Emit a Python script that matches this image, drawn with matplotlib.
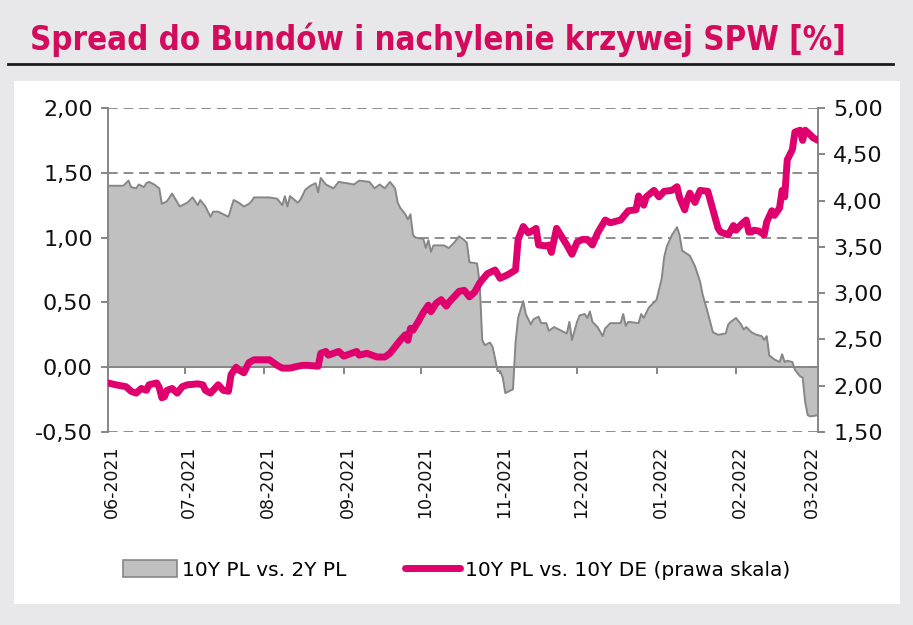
import numpy as np
import matplotlib
matplotlib.use("Agg")
import matplotlib.pyplot as plt
import matplotlib.dates as mdates
import matplotlib.transforms as mtransforms
from matplotlib import font_manager
from matplotlib.patches import Rectangle, Patch
from matplotlib.lines import Line2D
from matplotlib.ticker import FixedLocator, FuncFormatter

# data (days counted from 2021-06-01)
start = np.datetime64("2021-06-01")

slope_days = [0, 6, 8, 9, 11, 12, 14, 15, 16, 18, 20, 21, 23, 25, 28, 29, 31, 33, 35, 36,
              38, 40, 41, 43, 45, 47, 49, 51, 53, 55, 56, 57, 63, 66, 68, 69, 70, 71, 74, 75,
              77, 79, 81, 82, 83, 85, 88, 90, 93, 96, 98, 102, 104, 106, 108, 110, 112, 113, 114, 116,
              117, 118, 119, 120, 123, 124, 125, 126, 127, 131, 133, 135, 137, 139, 140, 141, 144, 145, 146, 147,
              149, 150, 151, 152, 153, 154, 155, 158, 159, 160, 162, 163, 165, 166, 168, 169, 171, 172, 174, 177,
              179, 180, 181, 183, 184, 186, 187, 188, 189, 191, 193, 194, 196, 200, 201, 202, 203, 207, 208, 209,
              211, 214, 216, 217, 218, 220, 222, 223, 224, 227, 229, 231, 232, 234, 236, 238, 241, 242, 243, 245,
              247, 248, 249, 251, 253, 255, 256, 257, 258, 260, 262, 263, 264, 265, 267, 268, 270, 271, 272, 273,
              274, 277]
slope_vals = [1.40, 1.40, 1.44, 1.39, 1.38, 1.41, 1.39, 1.42, 1.43, 1.41, 1.38, 1.26, 1.28, 1.34, 1.24, 1.25, 1.27, 1.31, 1.25, 1.29,
              1.24, 1.16, 1.20, 1.20, 1.18, 1.16, 1.29, 1.27, 1.24, 1.26, 1.28, 1.31, 1.31, 1.30, 1.25, 1.32, 1.24, 1.32, 1.27, 1.29,
              1.37, 1.40, 1.42, 1.35, 1.46, 1.41, 1.38, 1.43, 1.42, 1.41, 1.44, 1.43, 1.38, 1.41, 1.38, 1.43, 1.38, 1.27, 1.23, 1.18,
              1.14, 1.18, 1.02, 1.00, 0.99, 0.92, 0.98, 0.89, 0.94, 0.94, 0.92, 0.96, 1.01, 0.98, 0.96, 0.81, 0.80, 0.65, 0.21, 0.17,
              0.19, 0.16, 0.07, -0.03, -0.03, -0.08, -0.20, -0.17, 0.19, 0.38, 0.51, 0.41, 0.33, 0.37, 0.39, 0.34, 0.34, 0.28, 0.31, 0.28,
              0.26, 0.35, 0.21, 0.35, 0.40, 0.41, 0.38, 0.43, 0.35, 0.31, 0.24, 0.30, 0.34, 0.34, 0.41, 0.32, 0.35, 0.34, 0.41, 0.38,
              0.46, 0.52, 0.68, 0.85, 0.93, 1.02, 1.08, 1.02, 0.90, 0.86, 0.78, 0.66, 0.56, 0.42, 0.27, 0.25, 0.26, 0.33, 0.35, 0.38,
              0.33, 0.29, 0.31, 0.27, 0.25, 0.24, 0.21, 0.24, 0.09, 0.06, 0.04, 0.10, 0.04, 0.05, 0.04, -0.02, -0.07, -0.08, -0.27, -0.37,
              -0.38, -0.37]

spread_days = [0, 3, 7, 9, 11, 13, 15, 16, 19, 20, 21, 22, 23, 25, 27, 29, 31, 35, 37, 38,
               40, 42, 43, 45, 47, 48, 50, 51, 53, 55, 57, 63, 66, 68, 71, 74, 76, 78, 82, 83,
               85, 86, 90, 92, 94, 97, 98, 101, 105, 108, 110, 112, 114, 116, 117, 118, 119, 121, 123, 125,
               126, 128, 130, 132, 133, 135, 137, 139, 141, 143, 145, 148, 151, 153, 156, 159, 160, 162, 164, 166,
               167, 168, 171, 172, 173, 175, 177, 179, 181, 183, 185, 187, 189, 191, 194, 196, 200, 203, 206, 207,
               209, 210, 213, 215, 217, 220, 222, 223, 225, 226, 227, 229, 231, 234, 236, 238, 239, 242, 244, 245,
               247, 249, 250, 251, 252, 254, 256, 257, 259, 260, 262, 263, 264, 265, 267, 268, 270, 271, 272, 274,
               275, 277]
spread_vals = [2.03, 2.01, 1.99, 1.94, 1.92, 1.97, 1.95, 2.01, 2.03, 1.98, 1.87, 1.88, 1.95, 1.97, 1.92, 1.99, 2.01, 2.02, 2.01, 1.95,
               1.92, 1.98, 2.01, 1.95, 1.94, 2.12, 2.20, 2.17, 2.14, 2.25, 2.28, 2.28, 2.22, 2.19, 2.19, 2.21, 2.22, 2.22, 2.21, 2.35,
               2.37, 2.33, 2.37, 2.32, 2.34, 2.37, 2.33, 2.35, 2.31, 2.31, 2.35, 2.42, 2.49, 2.55, 2.49, 2.62, 2.60, 2.69, 2.79, 2.87,
               2.80, 2.89, 2.93, 2.86, 2.90, 2.96, 3.02, 3.03, 2.96, 3.01, 3.11, 3.21, 3.25, 3.16, 3.20, 3.25, 3.58, 3.72, 3.65, 3.68,
               3.70, 3.52, 3.51, 3.52, 3.44, 3.70, 3.61, 3.52, 3.42, 3.55, 3.58, 3.58, 3.52, 3.65, 3.79, 3.76, 3.79, 3.89, 3.90, 4.05,
               3.95, 4.04, 4.11, 4.04, 4.10, 4.11, 4.15, 4.03, 3.90, 4.01, 4.08, 3.98, 4.11, 4.10, 3.90, 3.70, 3.66, 3.63, 3.73, 3.68,
               3.74, 3.79, 3.66, 3.66, 3.68, 3.67, 3.63, 3.77, 3.89, 3.84, 3.92, 4.11, 4.04, 4.44, 4.55, 4.74, 4.76, 4.65, 4.76, 4.71,
               4.68, 4.65]

left_ticks = [-0.5, 0.0, 0.5, 1.0, 1.5, 2.0]
right_ticks = [1.5, 2.0, 2.5, 3.0, 3.5, 4.0, 4.5, 5.0]
title = "Spread do Bundów i nachylenie krzywej SPW [%]"
label_slope = "10Y PL vs. 2Y PL"
label_spread = "10Y PL vs. 10Y DE (prawa skala)"

PINK = "#e0006d"
GRAY = "#868686"
FILL = "#c0c0c0"

# a condensed bold face for the title if one is installed
title_prop = font_manager.FontProperties(family="DejaVu Sans", weight="bold", stretch="condensed")
if "Condensed" not in font_manager.findfont(title_prop):
    title_prop = font_manager.FontProperties(family="DejaVu Sans", weight="bold")

slope_x = start + np.array(slope_days)
spread_x = start + np.array(spread_days)

W, H = 913, 625
fig = plt.figure(figsize=(W / 100, H / 100), dpi=100, facecolor="#e8e8ea")
fig.patches.append(Rectangle((14 / W, 1 - 604 / H), 886 / W, 523 / H, transform=fig.transFigure,
                             facecolor="white", edgecolor="none", zorder=-10))
t = fig.text(30 / W, 1 - 40 / H, title, color="#d40a5c", fontproperties=title_prop,
             va="center", ha="left")
t.set_fontsize(25)
# squeeze the title to the width it has in the picture
r = fig.canvas.get_renderer()
tw = t.get_window_extent(r).width
t.set_fontsize(25 * 818 / tw)
fig.add_artist(Line2D([8 / W, 893 / W], [1 - 64 / H, 1 - 64 / H], color="#1a1a1a", lw=2,
                      transform=fig.transFigure))

ax = fig.add_axes([108 / W, 1 - 432 / H, 710 / W, 324 / H])
ax.set_facecolor("none")
ax.set_axisbelow(True)

ax.fill_between(slope_x, slope_vals, 0, color=FILL, lw=0, zorder=1)
ax.plot(slope_x, slope_vals, color=GRAY, lw=1.4, zorder=2)

ax.set_xlim(start, start + 277)
ax.set_ylim(-0.5, 2.0)
ax.yaxis.set_major_locator(FixedLocator(left_ticks))
fmt = FuncFormatter(lambda v, p: f"{v:.2f}".replace(".", ","))
ax.yaxis.set_major_formatter(fmt)
ax.grid(axis="y", color="#8c8c8c", lw=1.4, linestyle=(0, (5, 3)))
ax.grid(axis="x", visible=False)

for s in ["top", "right"]:
    ax.spines[s].set_visible(False)
ax.spines["left"].set_color(GRAY)
ax.spines["left"].set_linewidth(1.4)
ax.spines["bottom"].set_position(("data", 0))
ax.spines["bottom"].set_color(GRAY)
ax.spines["bottom"].set_linewidth(1.4)
ax.spines["bottom"].set_zorder(2.5)
ax.xaxis.set_major_locator(mdates.MonthLocator())
ax.tick_params(axis="x", direction="out", length=5, width=1.4, color=GRAY, labelbottom=False)
ax.tick_params(axis="y", direction="out", length=5, width=1.4, color=GRAY, labelsize=16,
               pad=6, labelcolor="#111111")

# month labels at the bottom of the plot
sec = ax.secondary_xaxis("bottom")
sec.xaxis.set_major_locator(mdates.MonthLocator())
sec.xaxis.set_major_formatter(mdates.DateFormatter("%m-%Y"))
sec.spines["bottom"].set_visible(False)
sec.tick_params(axis="x", length=0, pad=10, labelsize=12.5, labelrotation=90, labelcolor="#111111")
shift = mtransforms.ScaledTranslation(4 / 100, 0, fig.dpi_scale_trans)
for lbl in sec.get_xticklabels():
    lbl.set_transform(lbl.get_transform() + shift)

ax2 = ax.twinx()
ax2.plot(spread_x, spread_vals, color=PINK, lw=5, solid_joinstyle="round",
         solid_capstyle="round", zorder=3)
ax2.set_ylim(1.5, 5.0)
ax2.yaxis.set_major_locator(FixedLocator(right_ticks))
ax2.yaxis.set_major_formatter(fmt)
for s in ["top", "left", "bottom"]:
    ax2.spines[s].set_visible(False)
ax2.spines["right"].set_color(GRAY)
ax2.spines["right"].set_linewidth(1.4)
ax2.tick_params(axis="y", direction="out", length=5, width=1.4, color=GRAY, labelsize=16,
                pad=6, labelcolor="#111111")

handles = [Patch(facecolor=FILL, edgecolor=GRAY, lw=1.2),
           Line2D([0], [0], color=PINK, lw=5, solid_capstyle="round")]
fig.legend(handles, [label_slope, label_spread], loc="center", bbox_to_anchor=(0.5, 1 - 570 / H),
           ncol=2, frameon=False, fontsize=14.5, handlelength=2.7, handleheight=0.85,
           handletextpad=0.25, columnspacing=2.9)

fig.savefig("out.png", dpi=100, facecolor=fig.get_facecolor())
